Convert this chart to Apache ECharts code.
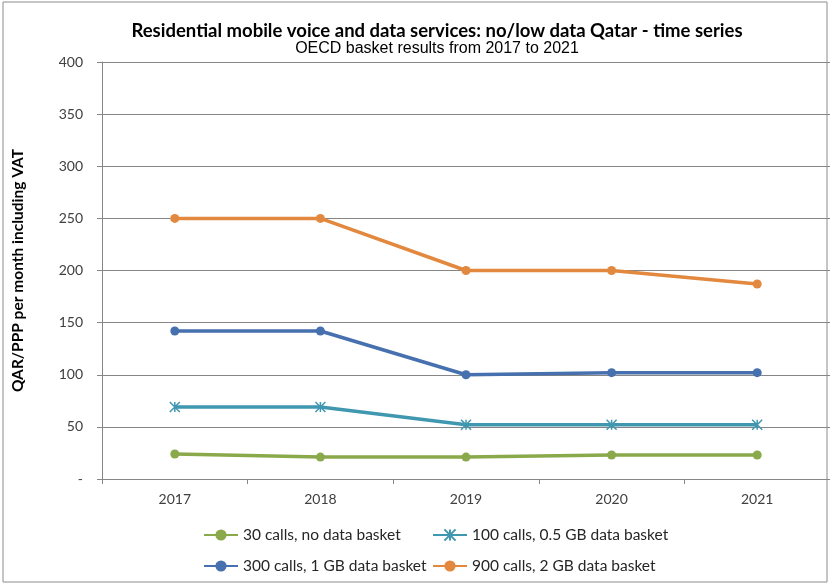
<!DOCTYPE html>
<html><head><meta charset="utf-8">
<script src="https://cdn.jsdelivr.net/npm/echarts@6/dist/echarts.min.js"></script>
<style>html,body{margin:0;padding:0;background:#fff}#c{width:830px;height:585px}</style>
</head><body><div id="c"></div>
<script>
const years = ['2017','2018','2019','2020','2021'];
const s30 = [24, 21, 21, 23, 23];
const s100 = [69, 69, 52, 52, 52];
const s300 = [142, 142, 100, 102, 102];
const s900 = [250, 250, 200, 200, 187];
const names = ['30 calls, no data basket','100 calls, 0.5 GB data basket','300 calls, 1 GB data basket','900 calls, 2 GB data basket'];
const colors = ['#8aa94a','#3f97b0','#4670ae','#e2883f'];
const FONT = 'Lato';
const star = 'path://M0,0 L10,10 M10,0 L0,10 M5,0 L5,10';
function ser(i, data, sym){
  return {name:names[i], type:'line', data:data, symbol:sym, symbolSize: sym===star?10:9,
    showSymbol:true, lineStyle:{width:3.5,color:colors[i]},
    itemStyle: sym===star?{color:colors[i],borderColor:colors[i],borderWidth:1.5}:{color:colors[i]},
    emphasis:{disabled:true}, animation:false};
}
const chart = echarts.init(document.getElementById('c'));
chart.setOption({
  animation:false,
  textStyle:{fontFamily:FONT},
  title:{text:'Residential mobile voice and data services: no/low data Qatar - time series',
    subtext:'OECD basket results from 2017 to 2021', left:432, textAlign:'center', top:17, itemGap:0,
    textStyle:{fontFamily:FONT,fontSize:18.5,fontWeight:'bold',color:'#000'},
    subtextStyle:{fontFamily:'Liberation Sans',fontSize:16,color:'#000'}},
  graphic:[{type:'rect',shape:{x:3,y:2,width:824,height:580},style:{fill:'none',stroke:'#8c8c8c',lineWidth:1},silent:true}],
  grid:{left:102,right:-5,top:62,bottom:106,containLabel:false},
  legend:[
    {orient:'vertical',left:198,top:522,itemWidth:34,itemHeight:14,itemGap:15,data:[names[0],names[2]],
      textStyle:{fontFamily:FONT,fontSize:15.5,color:'#262626'},selectedMode:false},
    {orient:'vertical',left:427,top:522,itemWidth:34,itemHeight:14,itemGap:15,data:[names[1],names[3]],
      textStyle:{fontFamily:FONT,fontSize:15.5,color:'#262626'},selectedMode:false}
  ],
  xAxis:{type:'category',data:years,boundaryGap:true,
    axisLine:{lineStyle:{color:'#868686',width:1}},
    axisTick:{show:true,alignWithLabel:false,length:5,lineStyle:{color:'#868686'}},
    axisLabel:{fontFamily:FONT,fontSize:14,color:'#404040',margin:13}},
  yAxis:{type:'value',min:0,max:400,interval:50,
    name:'QAR/PPP per month including VAT',nameLocation:'middle',nameGap:76,
    nameTextStyle:{fontFamily:FONT,fontSize:15.5,fontWeight:'bold',color:'#000'},
    axisLine:{show:true,lineStyle:{color:'#868686'}},
    axisTick:{show:true,length:5,lineStyle:{color:'#868686'}},
    splitLine:{lineStyle:{color:'#868686',width:1}},
    axisLabel:{fontFamily:FONT,fontSize:14,color:'#404040',margin:19,formatter:v=>v===0?'-':String(v)}},
  series:[ser(0,s30,'circle'),ser(1,s100,star),ser(2,s300,'circle'),ser(3,s900,'circle')]
});
</script></body></html>
